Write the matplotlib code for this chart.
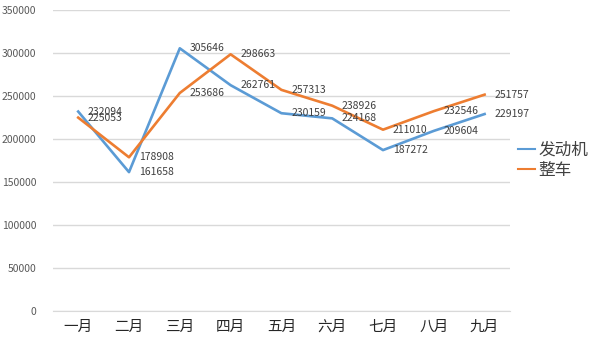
import matplotlib
matplotlib.use("Agg")
from matplotlib import pyplot as plt

plt.rcParams['font.family'] = ['Noto Sans CJK SC', 'DejaVu Sans']

months = ['一月', '二月', '三月', '四月', '五月', '六月', '七月', '八月', '九月']
engine = [232094, 161658, 305646, 262761, 230159, 224168, 187272, 209604, 229197]
vehicle = [225053, 178908, 253686, 298663, 257313, 238926, 211010, 232546, 251757]

blue = '#5b9bd5'
orange = '#ed7d31'

fig = plt.figure(figsize=(6, 3.5), dpi=100)
ax = fig.add_axes([0.088, 0.111, 0.762, 0.86])

x = range(len(months))
ax.plot(x, engine, color=blue, lw=1.9, label='发动机')
ax.plot(x, vehicle, color=orange, lw=1.9, label='整车')

# value labels to the right of each point
for xi, v in zip(x, engine):
    ax.annotate(str(v), xy=(xi, v), xytext=(7, 0), textcoords='offset points',
                va='center', ha='left', fontsize=7.5, color='#404040')
for xi, v in zip(x, vehicle):
    ax.annotate(str(v), xy=(xi, v), xytext=(7, 0), textcoords='offset points',
                va='center', ha='left', fontsize=7.5, color='#404040')

ax.set_xlim(-0.5, len(months) - 0.5)
ax.set_ylim(0, 350000)
ax.set_yticks(range(0, 350001, 50000))
ax.set_xticks(list(x))
ax.set_xticklabels(months, fontsize=10.5, color='#262626')
ax.tick_params(axis='y', labelsize=7.5, labelcolor='#595959', length=0, pad=12)
ax.tick_params(axis='x', length=0, pad=6)
ax.grid(axis='y', color='#d9d9d9', lw=1)
ax.set_axisbelow(True)
for s in ['top', 'right', 'left']:
    ax.spines[s].set_visible(False)
ax.spines['bottom'].set_color('#d9d9d9')

leg = ax.legend(loc='center left', bbox_to_anchor=(1.0, 0.5), frameon=False,
                fontsize=12, handlelength=1.0, handletextpad=0.2, labelspacing=0.2,
                borderaxespad=0.3, borderpad=0.2, labelcolor='#404040')
for line in leg.get_lines():
    line.set_linewidth(1.5)

fig.savefig('out.png', dpi=100)
